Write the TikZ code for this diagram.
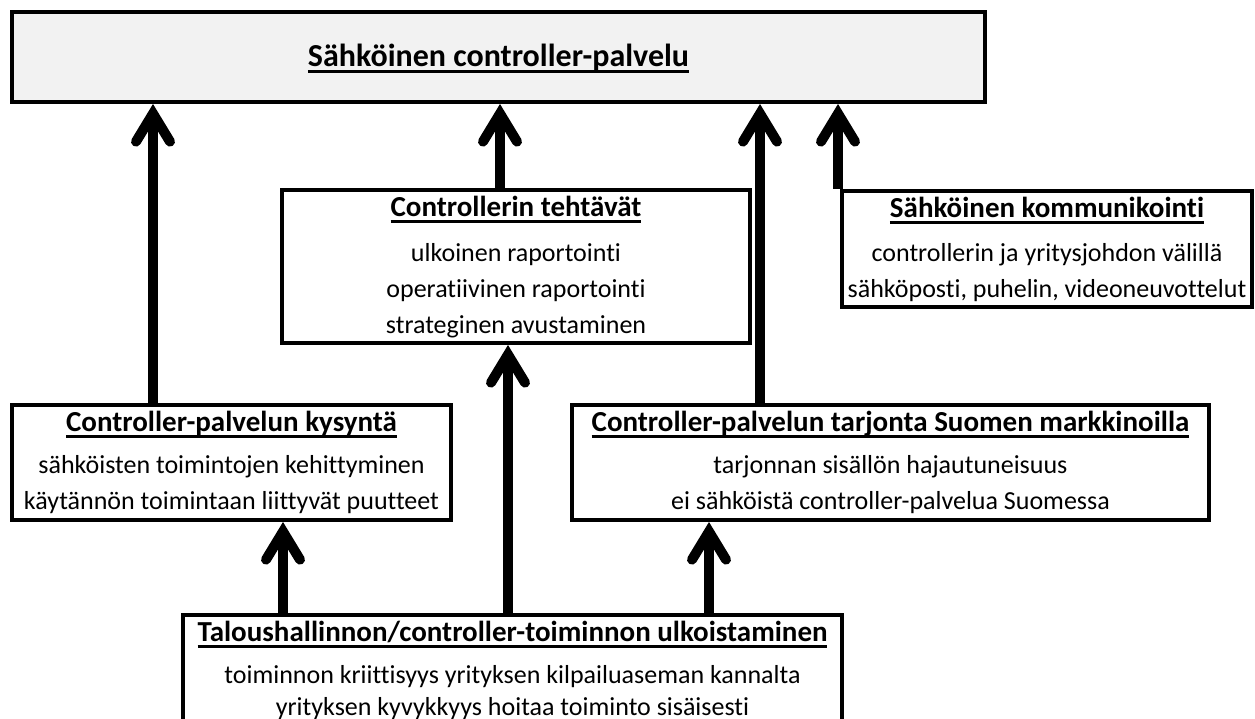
\documentclass[tikz,border=0pt]{standalone}
\usepackage{fontspec}
\setmainfont{Carlito}[Ligatures=NoCommon]
\usetikzlibrary{arrows.meta}
\definecolor{topgrey}{HTML}{F2F2F2}
\newcommand{\boxtitle}[2][29]{\setbox0=\hbox{\fontsize{#1}{36}\selectfont\bfseries #2}\rlap{\rule[-6.5pt]{\wd0}{3pt}}\box0}
\tikzset{
  panel/.style={draw, line width=4pt, fill=white, inner sep=0pt, anchor=north west},
  paneltext/.style={anchor=north, align=center, inner sep=0pt, font=\fontsize{26}{36}\selectfont},
  uparrow/.style={line width=10pt, -{Straight Barb[length=28pt,width=34pt,line cap=round]}},
}
\begin{document}
\begin{tikzpicture}[x=1pt,y=-1pt]
\useasboundingbox (0,0) rectangle (1255,719);
% panels
\node[panel, fill=topgrey, minimum width=973pt, minimum height=90pt] (top) at (10,10) {};
\node[panel, minimum width=468pt, minimum height=153pt] (tasks) at (280,188) {};
\node[panel, minimum width=410pt, minimum height=116pt] (comm) at (840,189) {};
\node[panel, minimum width=439pt, minimum height=115pt] (demand) at (10,403) {};
\node[panel, minimum width=637pt, minimum height=115pt] (supply) at (570,403) {};
\node[panel, minimum width=659pt, minimum height=160pt] (outsrc) at (181,613) {};
% texts
\node[paneltext] (toptxt) at ([yshift=-34pt]top.north) {\boxtitle[32]{Sähköinen controller-palvelu}};
\node[paneltext] (taskstxt) at ([yshift=-7.5pt]tasks.north) {\boxtitle{Controllerin tehtävät}\\[9pt]
  ulkoinen raportointi\\ operatiivinen raportointi\\ strateginen avustaminen};
\node[paneltext] (commtxt) at ([yshift=-7.5pt]comm.north) {\boxtitle{Sähköinen kommunikointi}\\[8pt]
  controllerin ja yritysjohdon välillä\\ sähköposti, puhelin, videoneuvottelut};
\node[paneltext] (demandtxt) at ([yshift=-7.5pt]demand.north) {\boxtitle{Controller-palvelun kysyntä}\\[6pt]
  sähköisten toimintojen kehittyminen\\ käytännön toimintaan liittyvät puutteet};
\node[paneltext] (supplytxt) at ([yshift=-7.5pt]supply.north) {\boxtitle{Controller-palvelun tarjonta Suomen markkinoilla}\\[6pt]
  tarjonnan sisällön hajautuneisuus\\ ei sähköistä controller-palvelua Suomessa};
\node[paneltext] (outsrctxt) at ([yshift=-7.5pt]outsrc.north) {\boxtitle{Taloushallinnon/controller-toiminnon ulkoistaminen}\\[6pt]
  toiminnon kriittisyys yrityksen kilpailuaseman kannalta\\[-4pt] yrityksen kyvykkyys hoitaa toiminto sisäisesti};
% arrows
\draw[uparrow] (153,0 |- demand.north) -- (153,0 |- top.south);
\draw[uparrow] (500,0 |- tasks.north) -- (500,0 |- top.south);
\draw[uparrow] (760,0 |- supply.north) -- (760,0 |- top.south);
\draw[uparrow] (838,0 |- comm.north) -- (838,0 |- top.south);
\draw[uparrow] (283,0 |- outsrc.north) -- (283,0 |- demand.south);
\draw[uparrow] (508,0 |- outsrc.north) -- (508,0 |- tasks.south);
\draw[uparrow] (709,0 |- outsrc.north) -- (709,0 |- supply.south);
\end{tikzpicture}
\end{document}
